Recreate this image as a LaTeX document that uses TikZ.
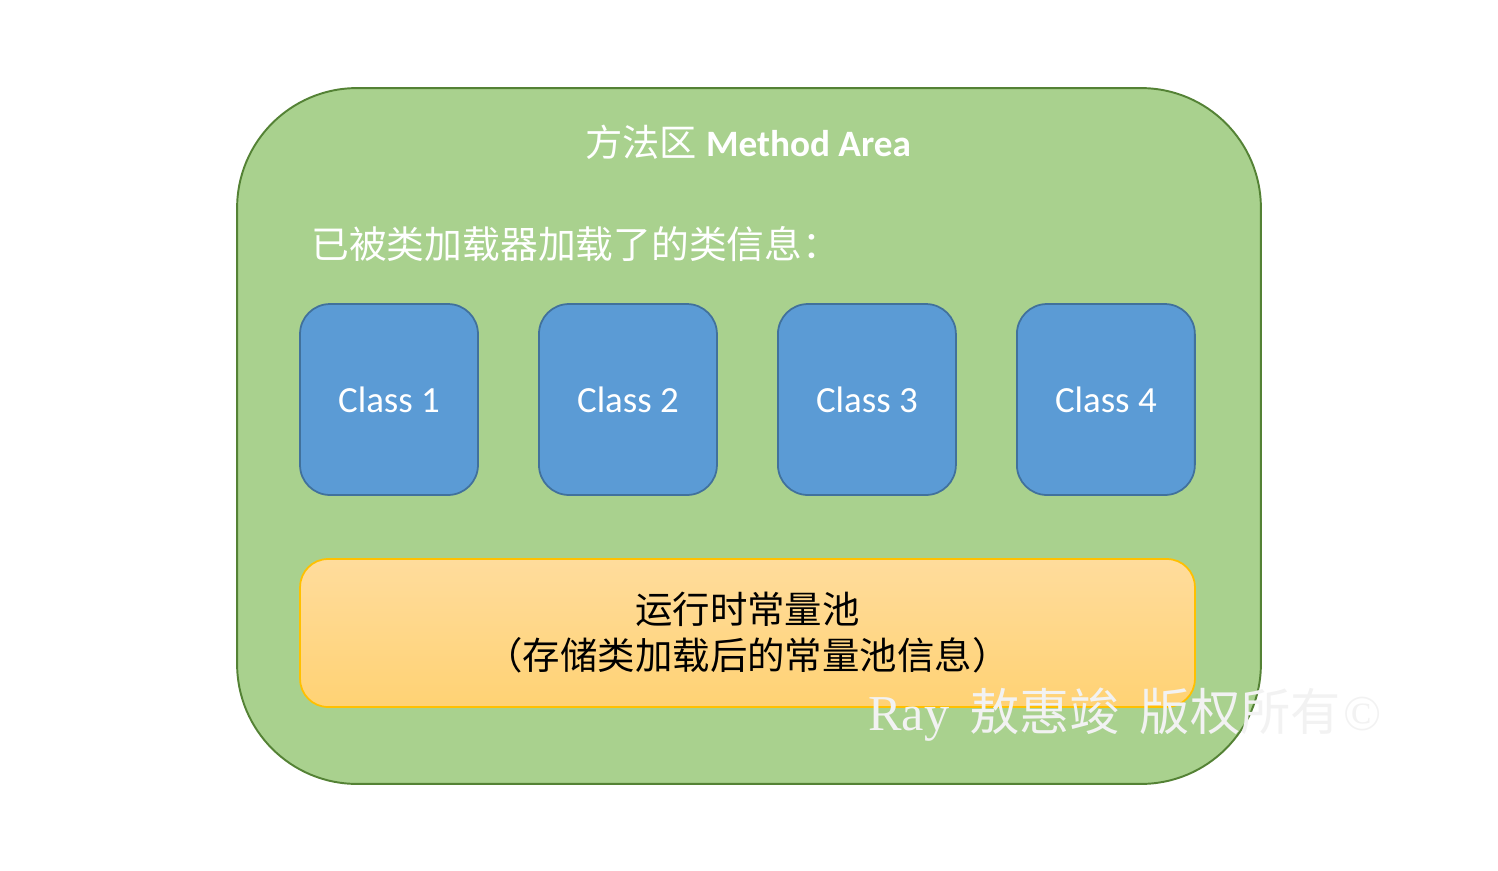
\documentclass[tikz,border=0pt]{standalone}
\usepackage{fontspec}
\setmainfont{Liberation Serif}
\newfontfamily\cjk{Noto Sans CJK SC}
\newfontfamily\calibri{Carlito}
\usetikzlibrary{positioning}

\definecolor{areagreen}{HTML}{A9D18E}
\definecolor{areaedge}{HTML}{548235}
\definecolor{classblue}{HTML}{5B9BD5}
\definecolor{classedge}{HTML}{41719C}
\definecolor{pooltop}{HTML}{FFDC9C}
\definecolor{poolbottom}{HTML}{FFD274}
\definecolor{pooledge}{HTML}{FFC000}
\definecolor{markgray}{HTML}{F2F2F2}

\tikzset{
  classbox/.style={fill = classblue, draw = classedge, line width = 1pt, rounded corners = 0.6cm,
    minimum width = 3.56cm, minimum height = 3.82cm, text = white,
    font = \calibri\fontsize{21}{25}\selectfont},
}

\begin{document}
\begin{tikzpicture}[x = 0.02cm, y = -0.02cm]
\useasboundingbox (0,0) rectangle (1498,870);
\node[fill = areagreen, draw = areaedge, line width = 1.1pt, rounded corners = 2.4cm, minimum width = 20.48cm, minimum height = 13.92cm] (area) at (749,436) {};
\node[text = white, font = \fontsize{21.2}{25}\selectfont] (title) at (748,142) {{\cjk 方法区} {\calibri\bfseries Method Area}};
\node[anchor = west, inner sep = 0pt, text = white, font = \cjk\fontsize{21.5}{25}\selectfont] (loaded) at (311,244) {已被类加载器加载了的类信息：};
% loaded classes
\node[classbox] (c1) at (389,399.5) {Class 1};
\node[classbox, right = 1.185cm of c1] (c2) {Class 2};
\node[classbox, right = 1.185cm of c2] (c3) {Class 3};
\node[classbox, right = 1.185cm of c3] (c4) {Class 4};
% runtime constant pool
\node[top color = pooltop, bottom color = poolbottom, draw = pooledge, line width = 1pt, rounded corners = 0.56cm, minimum width = 17.9cm, minimum height = 2.96cm, align = center, font = \cjk\fontsize{21.3}{26.2}\selectfont] (pool) at (747.5,633) {运行时常量池\\（存储类加载后的常量池信息）};
\node[anchor = west, inner sep = 0pt, text = markgray, font = \fontsize{28.6}{30}\selectfont] (mark) at (868,715) {Ray\hspace{0.4cm}{\cjk 敖惠竣\hspace{0.4cm}版权所有}\hspace{0.05cm}©};
\end{tikzpicture}
\end{document}
